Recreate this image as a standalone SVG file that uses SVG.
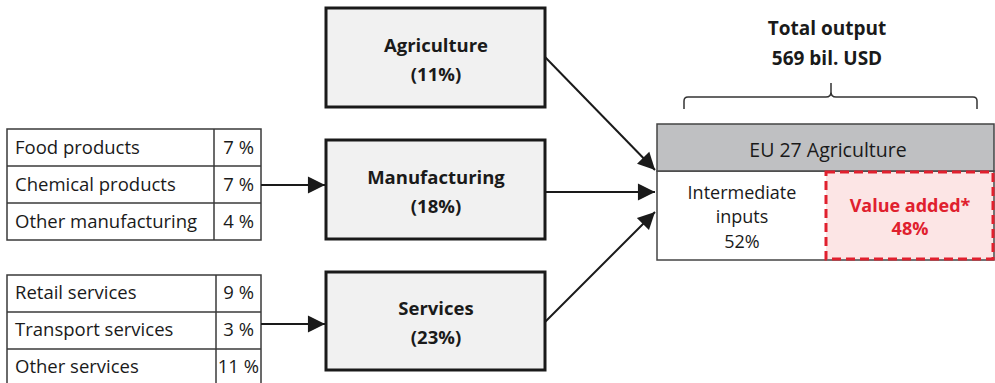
<svg xmlns="http://www.w3.org/2000/svg" width="995" height="383" viewBox="0 0 995 383">
<style>
.t{font-family:"Open Sans","Noto Sans",sans-serif;font-size:18.5px;fill:#1a1a1a}
.b{font-family:"Open Sans","Noto Sans",sans-serif;font-size:18.5px;font-weight:bold;fill:#1a1a1a;text-anchor:middle}
.cell{fill:#fff;stroke:#3a3a3a;stroke-width:1.5}
.box{fill:#f1f1f1;stroke:#1a1a1a;stroke-width:3}
.c{stroke:#1a1a1a;stroke-width:2;fill:none;marker-end:url(#ah)}
</style>
<defs>
<marker id="ah" viewBox="0 0 10 10" refX="10" refY="5" markerWidth="9" markerHeight="9" markerUnits="userSpaceOnUse" orient="auto" overflow="visible"><path d="M0,0 L10,5 L0,10 z" fill="#1a1a1a" transform="scale(1.9) translate(-4.7,-2.4)"/></marker>
</defs>
<g id="table-manufacturing">
<rect class="cell" x="7" y="129" width="254" height="111"/>
<line x1="7" y1="166" x2="261" y2="166" stroke="#3a3a3a" stroke-width="1.5"/>
<line x1="7" y1="203" x2="261" y2="203" stroke="#3a3a3a" stroke-width="1.5"/>
<line x1="214" y1="129" x2="214" y2="240" stroke="#3a3a3a" stroke-width="1.5"/>
<text class="t" x="15" y="154">Food products</text>
<text class="t" x="15" y="191">Chemical products</text>
<text class="t" x="15" y="228">Other manufacturing</text>
<text class="t" x="254" y="154" text-anchor="end">7 %</text>
<text class="t" x="254" y="191" text-anchor="end">7 %</text>
<text class="t" x="254" y="228" text-anchor="end">4 %</text>
</g>
<g id="table-services">
<rect class="cell" x="7" y="275" width="254" height="112"/>
<line x1="7" y1="312" x2="261" y2="312" stroke="#3a3a3a" stroke-width="1.5"/>
<line x1="7" y1="349" x2="261" y2="349" stroke="#3a3a3a" stroke-width="1.5"/>
<line x1="216" y1="275" x2="216" y2="387" stroke="#3a3a3a" stroke-width="1.5"/>
<text class="t" x="15" y="299">Retail services</text>
<text class="t" x="15" y="336">Transport services</text>
<text class="t" x="15" y="373">Other services</text>
<text class="t" x="254" y="299" text-anchor="end">9 %</text>
<text class="t" x="254" y="336" text-anchor="end">3 %</text>
<text class="t" x="259" y="373" text-anchor="end">11 %</text>
</g>
<g id="agriculture">
<rect class="box" x="326" y="8" width="219" height="99"/>
<text class="b" x="436" y="52">Agriculture</text>
<text class="b" x="436" y="81">(11%)</text>
</g>
<g id="manufacturing">
<rect class="box" x="326" y="140" width="219" height="99"/>
<text class="b" x="436" y="184">Manufacturing</text>
<text class="b" x="436" y="213">(18%)</text>
</g>
<g id="services">
<rect class="box" x="326" y="272" width="219" height="98"/>
<text class="b" x="436" y="315">Services</text>
<text class="b" x="436" y="344">(23%)</text>
</g>
<g id="eu27">
<rect x="657" y="171" width="337" height="89" fill="#fff" stroke="#444" stroke-width="1.5"/>
<rect x="657" y="124" width="337" height="47" fill="#bfc0c2" stroke="#444" stroke-width="1.5"/>
<text x="828" y="157" text-anchor="middle" style="font-family:'Open Sans','Noto Sans',sans-serif;font-size:19.5px;fill:#1a1a1a">EU 27 Agriculture</text>
<text x="742" y="199" text-anchor="middle" style="font-family:'Open Sans','Noto Sans',sans-serif;font-size:18px;fill:#1a1a1a">Intermediate</text>
<text x="742" y="223" text-anchor="middle" style="font-family:'Open Sans','Noto Sans',sans-serif;font-size:18px;fill:#1a1a1a">inputs</text>
<text x="742" y="248" text-anchor="middle" style="font-family:'Open Sans','Noto Sans',sans-serif;font-size:18px;fill:#1a1a1a">52%</text>
</g>
<g id="value-added">
<rect x="826" y="172" width="167" height="87" fill="#fce5e5" stroke="#e0202e" stroke-width="3" stroke-dasharray="9,5"/>
<text x="910" y="212" text-anchor="middle" style="font-family:'Open Sans','Noto Sans',sans-serif;font-size:18px;font-weight:bold;fill:#e0202e">Value added*</text>
<text x="910" y="235" text-anchor="middle" style="font-family:'Open Sans','Noto Sans',sans-serif;font-size:18px;font-weight:bold;fill:#e0202e">48%</text>
</g>
<g id="total-output">
<text class="b" x="827" y="35" style="font-size:19px">Total output</text>
<text class="b" x="827" y="65" style="font-size:19px">569 bil. USD</text>
<path d="M684,109 L684,101 Q684,97 688,97 L826,97 Q831,97 831,92 L831,83 L831,92 Q831,97 836,97 L973,97 Q977,97 977,101 L977,109" fill="none" stroke="#333" stroke-width="1.5"/>
</g>
<g id="connectors">
<line class="c" x1="261" y1="185" x2="325" y2="185"/>
<line class="c" x1="261" y1="324" x2="325" y2="324"/>
<line class="c" x1="545" y1="57" x2="655" y2="170"/>
<line class="c" x1="545" y1="192" x2="655" y2="192"/>
<line class="c" x1="545" y1="322" x2="655" y2="212"/>
</g>
</svg>
